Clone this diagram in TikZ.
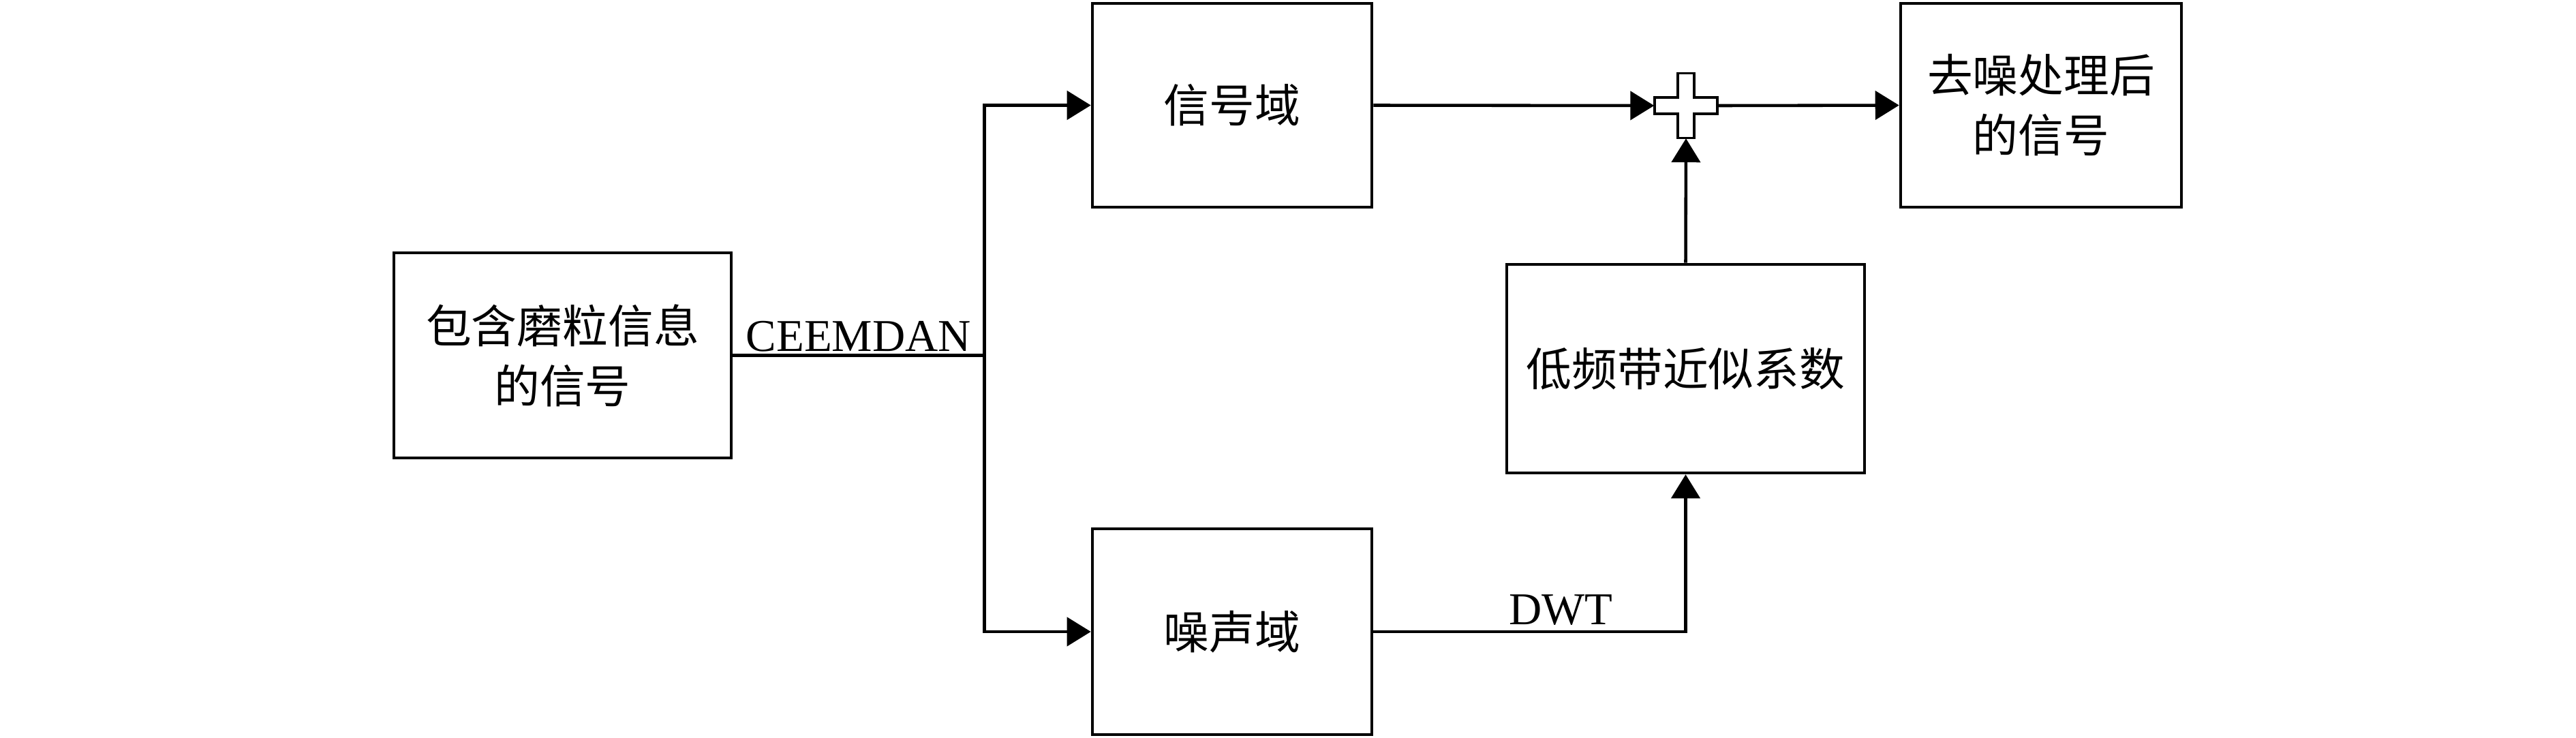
\documentclass[tikz,border=0pt]{standalone}
\usepackage{fontspec}
\setmainfont{Liberation Serif}
\newfontfamily\cjk{Noto Sans CJK SC}
\usetikzlibrary{arrows.meta,positioning}
\begin{document}
\begin{tikzpicture}[
    box/.style={draw, line width=1.3pt, align=center, inner sep=0pt,
      font=\cjk\fontsize{19}{25}\selectfont},
    conn/.style={line width=1.3pt},
    arr/.style={conn, -{Triangle[length=3.5mm, width=4.2mm]}},
    lbl/.style={font=\fontsize{19}{23}\selectfont, inner sep=2pt}
  ]

    \useasboundingbox (0,0) rectangle (37.8,-10.82);

    \node[box, minimum width=4.95cm, minimum height=3.01cm] (src) at (8.255,-5.215) {包含磨粒信息\\的信号};
    \node[box, minimum width=4.10cm, minimum height=2.99cm] (sig) at (18.08,-1.545) {信号域};
    \node[box, minimum width=4.10cm, minimum height=3.02cm] (noise) at (18.08,-9.27) {噪声域};
    \node[box, minimum width=5.25cm, minimum height=3.06cm] (low) at (24.735,-5.41) {低频带近似系数};
    \node[box, minimum width=4.12cm, minimum height=2.99cm] (out) at (29.95,-1.545) {去噪处理后\\的信号};

    % summing point
    \node[inner sep=0pt, minimum width=0.92cm, minimum height=0.95cm] (sum) at (24.74,-1.55) {};
    \draw[line width=1.1pt, fill=white] (sum.center) ++(-0.46,0.12) -- ++(0.34,0) -- ++(0,0.355)
      -- ++(0.24,0) -- ++(0,-0.355) -- ++(0.34,0) -- ++(0,-0.24) -- ++(-0.34,0)
      -- ++(0,-0.355) -- ++(-0.24,0) -- ++(0,0.355) -- ++(-0.34,0) -- cycle;

    \draw[conn] (src.east) -- node[lbl, above, inner sep=1pt] {CEEMDAN} ++(3.69,0) coordinate (fork);
    \draw[arr] (fork) |- (sig.west);
    \draw[arr] (fork) |- (noise.west);
    \draw[arr] (sig.east) -- (sum.west);
    \draw[arr] (noise.east) -| node[lbl, above, pos=0.3] {DWT} (low.south);
    \draw[arr] (low.north) -- (sum.south);
    \draw[arr] (sum.east) -- (out.west);

  \end{tikzpicture}
\end{document}
